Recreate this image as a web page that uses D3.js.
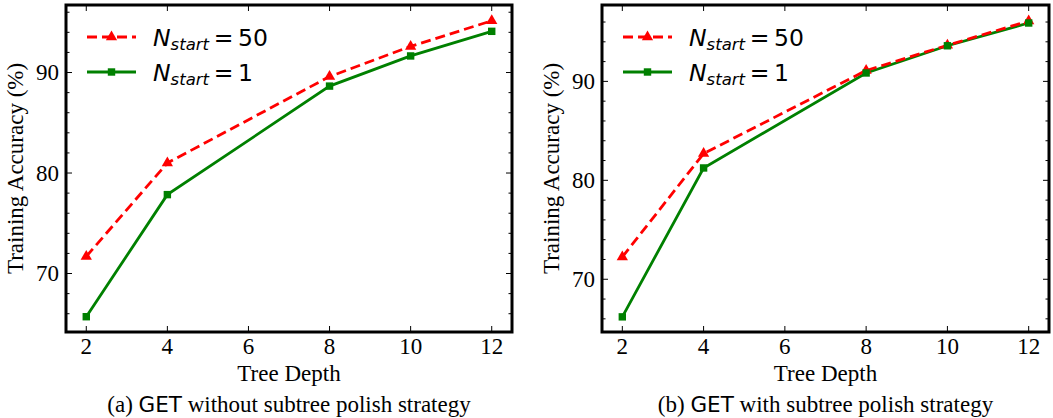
<!DOCTYPE html>
<html>
<head>
<meta charset="utf-8">
<script src="https://cdn.jsdelivr.net/npm/d3@7/dist/d3.min.js"></script>
<style>
    body { margin: 0; background: #fff; }
    svg { display: block; }
    .tick-label { font-family: 'Liberation Serif', 'Times New Roman', serif; font-size: 23px; fill: #000; }
    .axis-label { font-family: 'Liberation Serif', 'Times New Roman', serif; font-size: 23px; fill: #000; }
    .legend-text { font-family: 'DejaVu Sans', sans-serif; font-size: 23.5px; fill: #000; }
</style>
</head>
<body>
<svg id="chart" width="1053" height="418"></svg>
<script>
// tree depths and accuracies
var depths = [2, 4, 8, 10, 12];
var xTicks = [2, 4, 6, 8, 10, 12];

var accA_start50 = [71.7, 81.0, 89.6, 92.6, 95.15];
var accA_start1 = [65.7, 77.85, 88.65, 91.65, 94.1];

var accB_start50 = [72.25, 82.7, 91.1, 93.65, 96.1];
var accB_start1 = [66.2, 81.25, 90.85, 93.6, 95.9];

var yMajor = [70, 80, 90];

var panels = [
    {
        left: 66, right: 512, top: 5, bottom: 332,
        yDomain: [64.18, 96.72],
        s50: accA_start50, s1: accA_start1,
        caption: ['(a) ', 'GET', ' without subtree polish strategy'],
        legendX: 87
    },
    {
        left: 602, right: 1049, top: 5, bottom: 332,
        yDomain: [64.67, 97.72],
        s50: accB_start50, s1: accB_start1,
        caption: ['(b) ', 'GET', ' with subtree polish strategy'],
        legendX: 623
    }
];

var svg = d3.select('#chart');

function drawPanel(p) {
    var g = svg.append('g');

    var x = d3.scaleLinear().domain([1.5, 12.5]).range([p.left, p.right]);
    var y = d3.scaleLinear().domain(p.yDomain).range([p.bottom, p.top]);

    var minor = d3.range(Math.ceil(p.yDomain[0] / 2) * 2, p.yDomain[1], 2);

    // ticks, drawn inward on all four sides
    var tickG = g.append('g').attr('stroke', '#000').attr('stroke-width', 1);
    minor.forEach(function (v) {
        var len = yMajor.indexOf(v) !== -1 ? 6 : 3.5;
        tickG.append('line').attr('x1', p.left).attr('x2', p.left + len).attr('y1', y(v)).attr('y2', y(v));
        tickG.append('line').attr('x1', p.right).attr('x2', p.right - len).attr('y1', y(v)).attr('y2', y(v));
    });
    xTicks.forEach(function (v) {
        tickG.append('line').attr('x1', x(v)).attr('x2', x(v)).attr('y1', p.bottom).attr('y2', p.bottom - 6);
        tickG.append('line').attr('x1', x(v)).attr('x2', x(v)).attr('y1', p.top).attr('y2', p.top + 6);
    });

    // tick labels
    g.selectAll('.ylab').data(yMajor).enter().append('text')
        .attr('class', 'tick-label')
        .attr('x', p.left - 7)
        .attr('y', function (d) { return y(d); })
        .attr('dy', '0.34em')
        .attr('text-anchor', 'end')
        .text(function (d) { return d; });

    g.selectAll('.xlab').data(xTicks).enter().append('text')
        .attr('class', 'tick-label')
        .attr('x', function (d) { return x(d); })
        .attr('y', p.bottom + 22)
        .attr('text-anchor', 'middle')
        .text(function (d) { return d; });

    var cx = (p.left + p.right) / 2;

    g.append('text').attr('class', 'axis-label')
        .attr('x', cx).attr('y', p.bottom + 49)
        .attr('text-anchor', 'middle')
        .text('Tree Depth');

    g.append('text').attr('class', 'axis-label')
        .attr('transform', 'translate(' + (p.left - 43) + ',' + ((p.top + p.bottom) / 2) + ') rotate(-90)')
        .attr('text-anchor', 'middle')
        .text('Training Accuracy (%)');

    var cap = g.append('text').attr('class', 'axis-label')
        .attr('x', cx).attr('y', p.bottom + 80)
        .attr('text-anchor', 'middle');
    cap.append('tspan').text(p.caption[0]);
    cap.append('tspan').style('font-family', "'DejaVu Sans', sans-serif").style('font-size', '21.5px').text(p.caption[1]);
    cap.append('tspan').text(p.caption[2]);

    // series lines
    var line = d3.line()
        .x(function (d, i) { return x(depths[i]); })
        .y(function (d) { return y(d); });

    var plot = g.append('g');

    plot.append('path').datum(p.s1)
        .attr('d', line)
        .attr('fill', 'none')
        .attr('stroke', '#008000')
        .attr('stroke-width', 2.8);

    plot.append('path').datum(p.s50)
        .attr('d', line)
        .attr('fill', 'none')
        .attr('stroke', '#ff0000')
        .attr('stroke-width', 2.8)
        .attr('stroke-dasharray', '10,5');

    var tri = d3.symbol().type(d3.symbolTriangle).size(55);
    var sq = d3.symbol().type(d3.symbolSquare).size(55);

    plot.selectAll('.m50').data(p.s50).enter().append('path')
        .attr('d', tri)
        .attr('transform', function (d, i) { return 'translate(' + x(depths[i]) + ',' + y(d) + ')'; })
        .attr('fill', '#ff0000');

    plot.selectAll('.m1').data(p.s1).enter().append('path')
        .attr('d', sq)
        .attr('transform', function (d, i) { return 'translate(' + x(depths[i]) + ',' + y(d) + ')'; })
        .attr('fill', '#008000');

    // legend
    var lx = p.legendX, lw = 49;
    var leg = g.append('g');
    [
        { y: p.top + 32, color: '#ff0000', dash: '10,5', mark: tri, label: '50' },
        { y: p.top + 67, color: '#008000', dash: null, mark: sq, label: '1' }
    ].forEach(function (e) {
        leg.append('line')
            .attr('x1', lx).attr('x2', lx + lw)
            .attr('y1', e.y).attr('y2', e.y)
            .attr('stroke', e.color)
            .attr('stroke-width', 2.8)
            .attr('stroke-dasharray', e.dash);
        leg.append('path').attr('d', e.mark)
            .attr('transform', 'translate(' + (lx + lw / 2) + ',' + e.y + ')')
            .attr('fill', e.color);
        var t = leg.append('text').attr('class', 'legend-text')
            .attr('x', lx + 66).attr('y', e.y + 8.5);
        t.append('tspan').style('font-style', 'italic').text('N');
        t.append('tspan').style('font-style', 'italic').style('font-size', '16.5px').attr('dy', 4.5).text('start');
        t.append('tspan').attr('dy', -4.5).text('\u2009=\u2009' + e.label);
    });

    // frame on top
    g.append('rect')
        .attr('x', p.left).attr('y', p.top)
        .attr('width', p.right - p.left).attr('height', p.bottom - p.top)
        .attr('fill', 'none')
        .attr('stroke', '#000')
        .attr('stroke-width', 3);
}

panels.forEach(drawPanel);
</script>
</body>
</html>
